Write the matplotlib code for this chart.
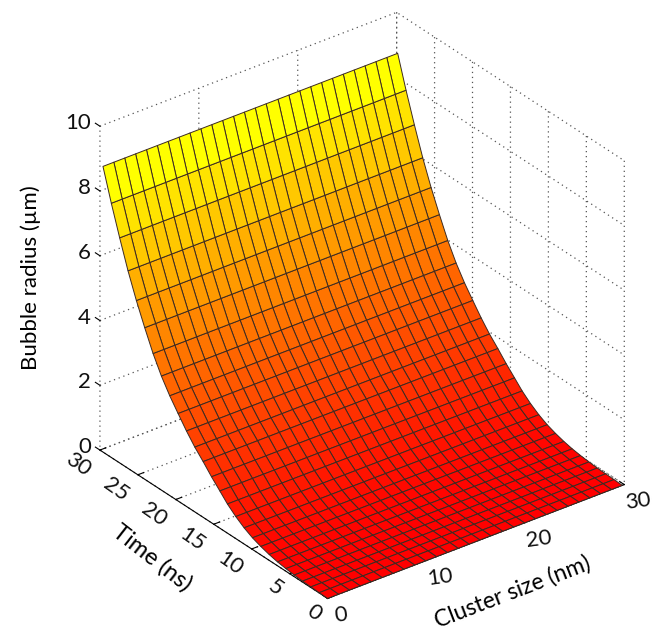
import numpy as np
import matplotlib
matplotlib.use("Agg")
from matplotlib import pyplot as plt
from mpl_toolkits.mplot3d import proj3d

plt.rcParams['font.family'] = ['Lato', 'DejaVu Sans']

# grid, 27 cells each way
cluster_nm = [0.0, 1.1, 2.2, 3.3, 4.4, 5.5, 6.6, 7.7, 8.8, 9.9, 11.0, 12.1, 13.2, 14.3,
              15.4, 16.5, 17.7, 18.8, 19.9, 21.0, 22.1, 23.2, 24.3, 25.4, 26.5, 27.6, 28.7, 29.8]
time_ns = [0.0, 1.1, 2.2, 3.3, 4.4, 5.5, 6.6, 7.7, 8.8, 9.9, 11.0, 12.1, 13.2, 14.2,
           15.3, 16.4, 17.5, 18.6, 19.7, 20.8, 21.9, 23.0, 24.1, 25.2, 26.3, 27.4, 28.5, 29.6]
radius_um = [0.0, 0.01, 0.02, 0.03, 0.05, 0.08, 0.12, 0.18, 0.26, 0.36, 0.5, 0.68, 0.9, 1.15,
             1.42, 1.72, 2.0, 2.33, 2.7, 3.08, 3.52, 4.05, 4.68, 5.35, 6.1, 6.95, 7.85, 8.82]

cluster_ticks = [0, 10, 20, 30]
time_ticks = [0, 5, 10, 15, 20, 25, 30]
radius_ticks = [0, 2, 4, 6, 8, 10]

X, Y = np.meshgrid(cluster_nm, time_ns)
Z = np.tile(np.array(radius_um).reshape(-1, 1), (1, len(cluster_nm)))

fig = plt.figure(figsize=(6.69, 6.34), dpi=100)
ax = fig.add_axes([54 / 669, 20.5 / 634, 600 / 669, 600 / 634], projection='3d', proj_type='ortho')
ax.set_box_aspect((1, 1, 1), zoom=1.048)
ax.view_init(elev=30, azim=-127.5)

ax.plot_surface(X, Y, Z, cmap='autumn', vmin=0, vmax=8.33, rstride=1, cstride=1, shade=False,
                edgecolor='#3c2a22', linewidth=0.7, antialiased=True)

ax.set_xlim(0, 30, view_margin=0)
ax.set_ylim(0, 30, view_margin=0)
ax.set_zlim(0, 10, view_margin=0)
ax.set_xticks(cluster_ticks)
ax.set_yticks(time_ticks)
ax.set_zticks(radius_ticks)
ax.set_xticklabels([])
ax.set_yticklabels([])
ax.set_zticklabels([])

for axis in [ax.xaxis, ax.yaxis, ax.zaxis]:
    axis.set_pane_color((1, 1, 1, 1))
    axis.pane.set_edgecolor((1, 1, 1, 0))
    axis._axinfo['grid'].update(color='#555555', linewidth=0.9, linestyle=(0, (1, 3)))
    axis._axinfo['tick'].update(inward_factor=0.0, outward_factor=0.25, linewidth={True: 0.8, False: 0.8},
                                color='#555555')
    axis._axinfo['axisline']['color'] = '#555555'
ax.zaxis.line.set_color((1, 1, 1, 0))
ax.zaxis.set_ticks_position('upper')
# radius ticks point away along the time direction, as in the picture
ax.zaxis._get_tickdir = lambda position: 1


def tick_text(x, y, z, label, **kw):
    # 3d text ignores rotation, so project the spot and write it as 2d text
    px, py, _ = proj3d.proj_transform(x, y, z, ax.get_proj())
    ax.text2D(px, py, label, transform=ax.transData, fontsize=16, color='#111111', **kw)


# tick labels sit at fixed offsets from the box edges
for c in cluster_ticks:
    tick_text(c, -1.8, -0.25, str(c), rotation=8, ha='center', va='center')
for t in time_ticks:
    label = str(t)
    tick_text(-1.4 if len(label) == 1 else -2.2, t, -0.28 if len(label) == 1 else -0.2, label,
              rotation=-35, ha='center', va='center')
for r in radius_ticks:
    tick_text(0, 31.2, r - 0.09, str(r), ha='right', va='center')

fig.text(31 / 669, 1 - 278 / 634, 'Bubble radius (µm)', rotation=90, ha='center', va='center', fontsize=16)
fig.text(152 / 669, 1 - 558 / 634, 'Time (ns)', rotation=-38, ha='center', va='center', fontsize=17)
fig.text(512 / 669, 1 - 592 / 634, 'Cluster size (nm)', rotation=21, ha='center', va='center', fontsize=16.5)

fig.savefig('out.png', dpi=100)
